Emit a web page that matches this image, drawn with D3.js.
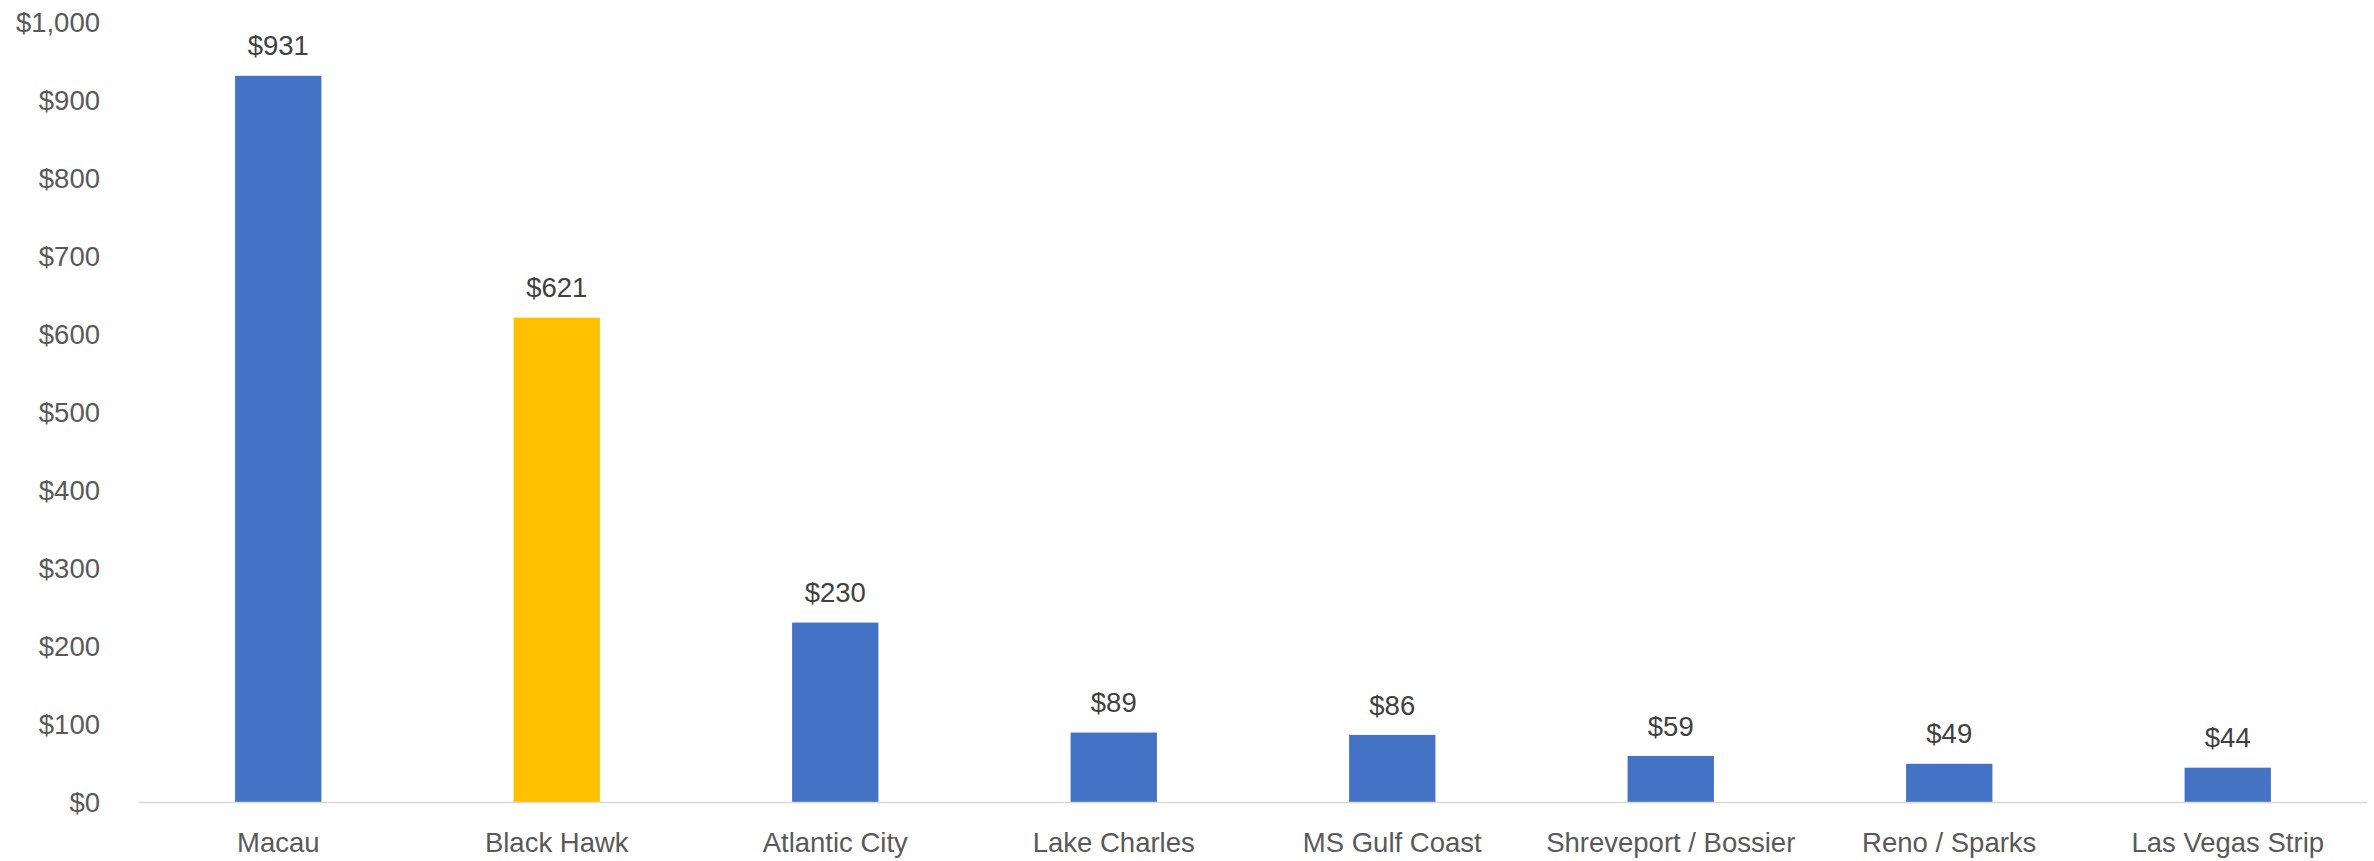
<!DOCTYPE html>
<html><head><meta charset="utf-8">
<script src="https://cdn.jsdelivr.net/npm/d3@7/dist/d3.min.js"></script>
<style>body{margin:0;background:#fff}svg{display:block}</style>
</head><body>
<svg id="c" width="2374" height="861"></svg>
<script>
const categories = ["Macau","Black Hawk","Atlantic City","Lake Charles","MS Gulf Coast","Shreveport / Bossier","Reno / Sparks","Las Vegas Strip"];
const values = [931,621,230,89,86,59,49,44];
const highlight = ["Black Hawk"];
const yTicks = [0,100,200,300,400,500,600,700,800,900,1000];

const svg = d3.select("#c");
const font = "'Liberation Sans', Arial, sans-serif";
const x = d3.scaleBand().domain(categories).range([139,2367]).paddingInner(0.69).paddingOuter(0.345);
const y = d3.scaleLinear().domain([0,1000]).range([802,22]);
const fmt = v => "$" + d3.format(",")(v);

// y tick labels
svg.append("g").selectAll("text").data(yTicks).join("text")
  .attr("x",100).attr("y",d=>y(d)).attr("dy","0.35em")
  .attr("text-anchor","end").attr("font-family",font).attr("font-size",27.5)
  .attr("fill","#595959").text(fmt);

// bars
svg.append("g").selectAll("rect").data(categories).join("rect")
  .attr("x",d=>x(d)).attr("width",x.bandwidth())
  .attr("y",(d,i)=>y(values[i])).attr("height",(d,i)=>y(0)-y(values[i]))
  .attr("fill",d=>highlight.includes(d)?"#FFC000":"#4472C4");

// axis line
svg.append("line").attr("x1",139).attr("x2",2367).attr("y1",y(0)+0.5).attr("y2",y(0)+0.5)
  .attr("stroke","#d9d9d9").attr("stroke-width",1.5);

// data labels
svg.append("g").selectAll("text").data(categories).join("text")
  .attr("x",d=>x(d)+x.bandwidth()/2).attr("y",(d,i)=>y(values[i])-30).attr("dy","0.35em")
  .attr("text-anchor","middle").attr("font-family",font).attr("font-size",27.5)
  .attr("fill","#404040").text((d,i)=>fmt(values[i]));

// category labels
svg.append("g").selectAll("text").data(categories).join("text")
  .attr("x",d=>x(d)+x.bandwidth()/2).attr("y",842).attr("dy","0.35em")
  .attr("text-anchor","middle").attr("font-family",font).attr("font-size",27.5)
  .attr("fill","#595959").text(d=>d);
</script>
</body></html>
